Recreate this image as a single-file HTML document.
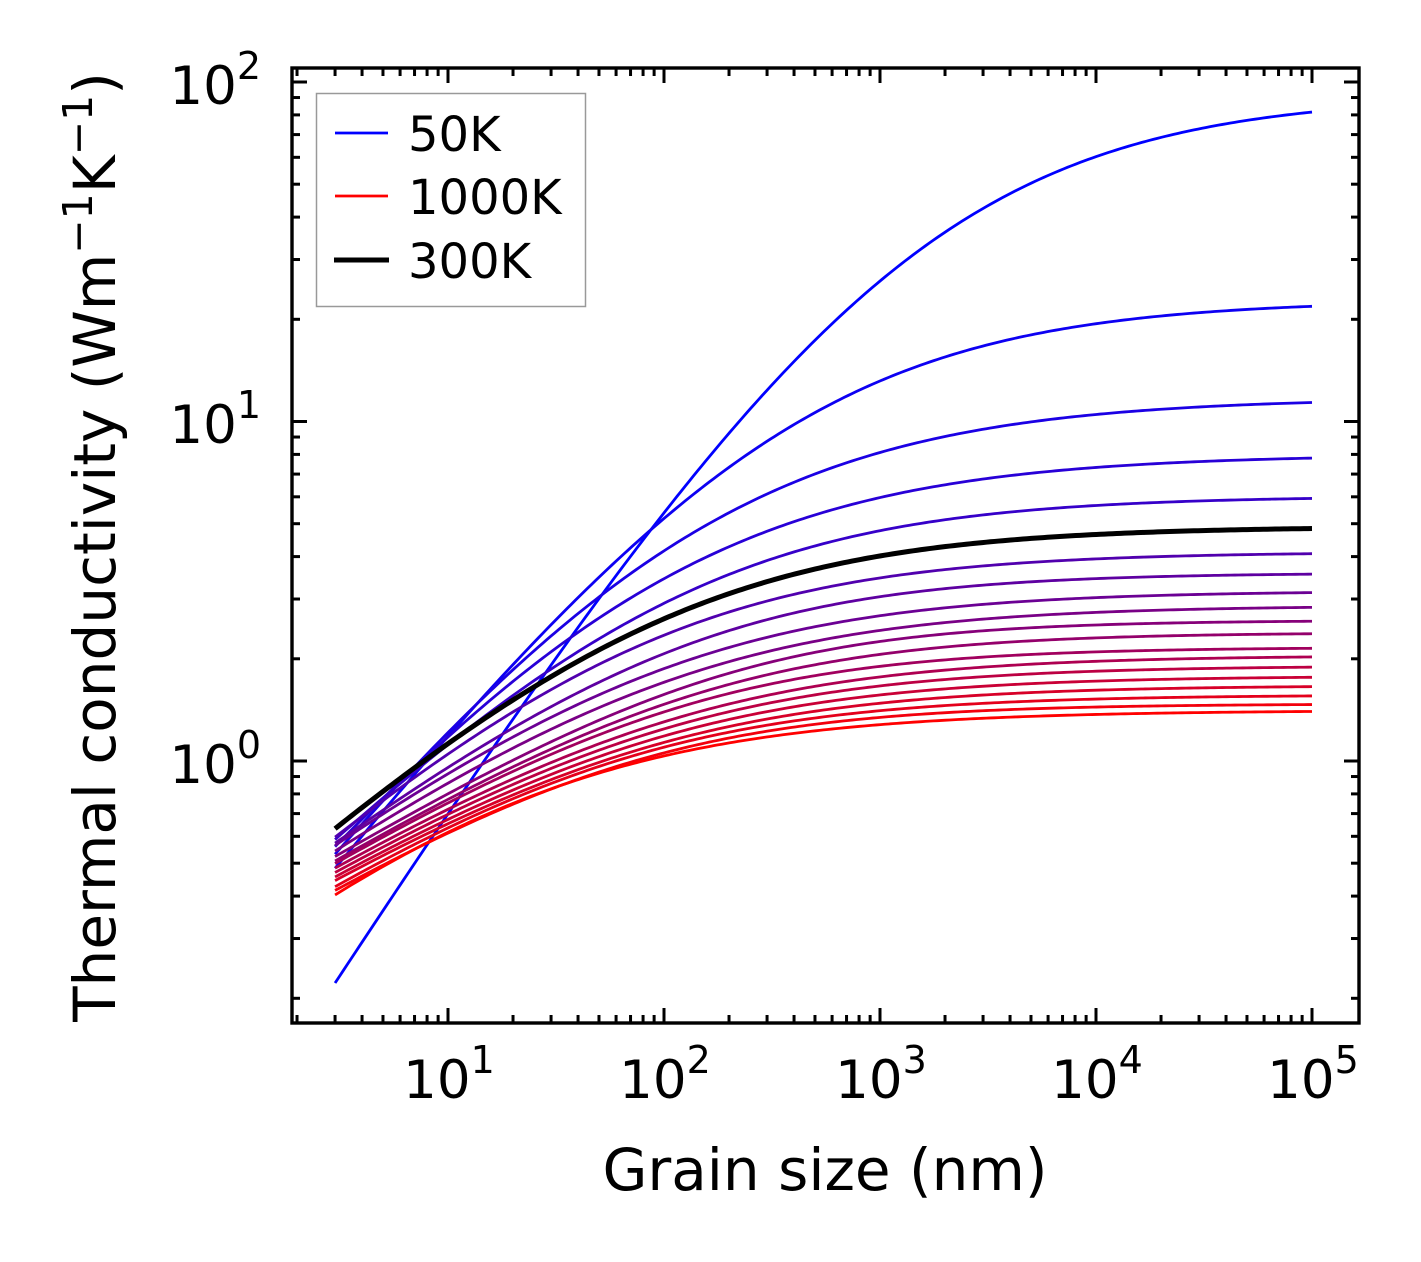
<!DOCTYPE html>
<html><head><meta charset="utf-8"><style>
html,body{margin:0;padding:0;background:#fff;}
svg{display:block;}
text{font-family:"DejaVu Sans","Liberation Sans",sans-serif;fill:#000;}
</style></head><body>
<svg id="s" width="1421" height="1262" viewBox="0 0 1421 1262" xmlns="http://www.w3.org/2000/svg">
<rect width="1421" height="1262" fill="#fff"/>
<g id="curves"></g>
<g id="ticks" stroke="#000" stroke-width="3"></g>
<rect x="292" y="68" width="1067" height="955" fill="none" stroke="#000" stroke-width="3.4"/>
<g font-size="53" text-anchor="middle">
<text x="449" y="1098">10<tspan dy="-25" font-size="38">1</tspan></text>
<text x="665" y="1098">10<tspan dy="-25" font-size="38">2</tspan></text>
<text x="881" y="1098">10<tspan dy="-25" font-size="38">3</tspan></text>
<text x="1097" y="1098">10<tspan dy="-25" font-size="38">4</tspan></text>
<text x="1313" y="1098">10<tspan dy="-25" font-size="38">5</tspan></text>
</g>
<g font-size="53" text-anchor="end">
<text x="261" y="104">10<tspan dy="-25" font-size="38">2</tspan></text>
<text x="261" y="443">10<tspan dy="-25" font-size="38">1</tspan></text>
<text x="261" y="783">10<tspan dy="-25" font-size="38">0</tspan></text>
</g>
<text x="825" y="1190" font-size="58" text-anchor="middle">Grain size (nm)</text>
<text transform="translate(115,547) rotate(-90)" font-size="58" text-anchor="middle">Thermal conductivity (Wm<tspan dy="-23" font-size="41">−1</tspan><tspan dy="23">K</tspan><tspan dy="-23" font-size="41">−1</tspan><tspan dy="23">)</tspan></text>
<rect x="316.5" y="93.5" width="269" height="213" fill="#fff" stroke="#999" stroke-width="1.5"/>
<line x1="335" y1="133" x2="388" y2="133" stroke="#00f" stroke-width="2.8"/>
<line x1="335" y1="196" x2="388" y2="196" stroke="#f00" stroke-width="2.8"/>
<line x1="334" y1="260" x2="389" y2="260" stroke="#000" stroke-width="5"/>
<g font-size="48">
<text x="408" y="151">50K</text>
<text x="408" y="214">1000K</text>
<text x="408" y="278">300K</text>
</g>
</svg>
<script>
(function(){
var NS="http://www.w3.org/2000/svg";
function X(L){return 448+216*(Math.log10(L)-1);}
var Y0=761,DY=339.5;
var tk=document.getElementById('ticks');
function ln(x1,y1,x2,y2){var l=document.createElementNS(NS,'line');l.setAttribute('x1',x1);l.setAttribute('y1',y1);l.setAttribute('x2',x2);l.setAttribute('y2',y2);tk.appendChild(l);}
for(var e=0;e<=5;e++){for(var m=1;m<10;m++){var L=m*Math.pow(10,e);var x=X(L);if(x<293||x>1358)continue;var len=(m==1)?15:8;ln(x,1023,x,1023-len);ln(x,68,x,68+len);}}
for(var e=-1;e<=2;e++){for(var m=1;m<10;m++){var k=m*Math.pow(10,e);var y=Y0-DY*Math.log10(k);if(y<69||y>1022)continue;var len=(m==1)?15:8;ln(292,y,292+len,y);ln(1359,y,1359-len,y);}}
var Ls=[3,100,1000,1e5];
var curves=[];
curves.push({T:50,p:[981,513,284,111]});
curves.push({T:100,p:[866,519,383,306]});
curves.push({T:150,p:[855,552,452,401]});
curves.push({T:200,p:[846,580,497,458]});
curves.push({T:250,p:[840,603,531,498]});
var R=[553,574,592,608,622,635,647,658,668,678,687,696,704,711];
for(var i=0;i<14;i++){var r=R[i];curves.push({T:350+50*i,p:[838+i*4.38,r+83-37*i/13,r+24-11*i/13,r]});}
var black={T:300,p:[828,620,556,528]};
function fit(c){
 var lk=c.p.map(function(y){return (Y0-y)/DY;});
 var best=1e9,bp=null;
 for(var a=0.3;a<=2.5;a+=0.05){
  for(var lL0=-1;lL0<=6;lL0+=0.05){
   var L0=Math.pow(10,lL0);
   var h=Ls.map(function(L){return Math.log10(1+Math.pow(L0/L,a));});
   for(var b=0.2;b<=3;b+=0.05){
    var s=0;for(var j=0;j<4;j++)s+=lk[j]+b*h[j];var lki=s/4;
    var e2=0;for(var j=0;j<4;j++){var d=lki-b*h[j]-lk[j];e2+=d*d;}
    if(e2<best){best=e2;bp=[a,b,L0,lki];}
   }
  }
 }
 return bp;
}
function path(c,col,w){
 var f=fit(c);var d='';
 for(var n=0;n<=240;n++){var lg=Math.log10(3)+n*(5-Math.log10(3))/240;var L=Math.pow(10,lg);
  var lkv=f[3]-f[1]*Math.log10(1+Math.pow(f[2]/L,f[0]));
  var x=X(L),y=Y0-DY*lkv;d+=(n?'L':'M')+x.toFixed(2)+' '+y.toFixed(2);}
 var p=document.createElementNS(NS,'path');p.setAttribute('d',d);p.setAttribute('fill','none');p.setAttribute('stroke',col);p.setAttribute('stroke-width',w);
 document.getElementById('curves').appendChild(p);
}
curves.forEach(function(c){var t=(c.T-50)/950;var col='rgb('+Math.round(255*t)+',0,'+Math.round(255*(1-t))+')';path(c,col,2.8);});
path(black,'#000',5);
})();
</script>
</body></html>
